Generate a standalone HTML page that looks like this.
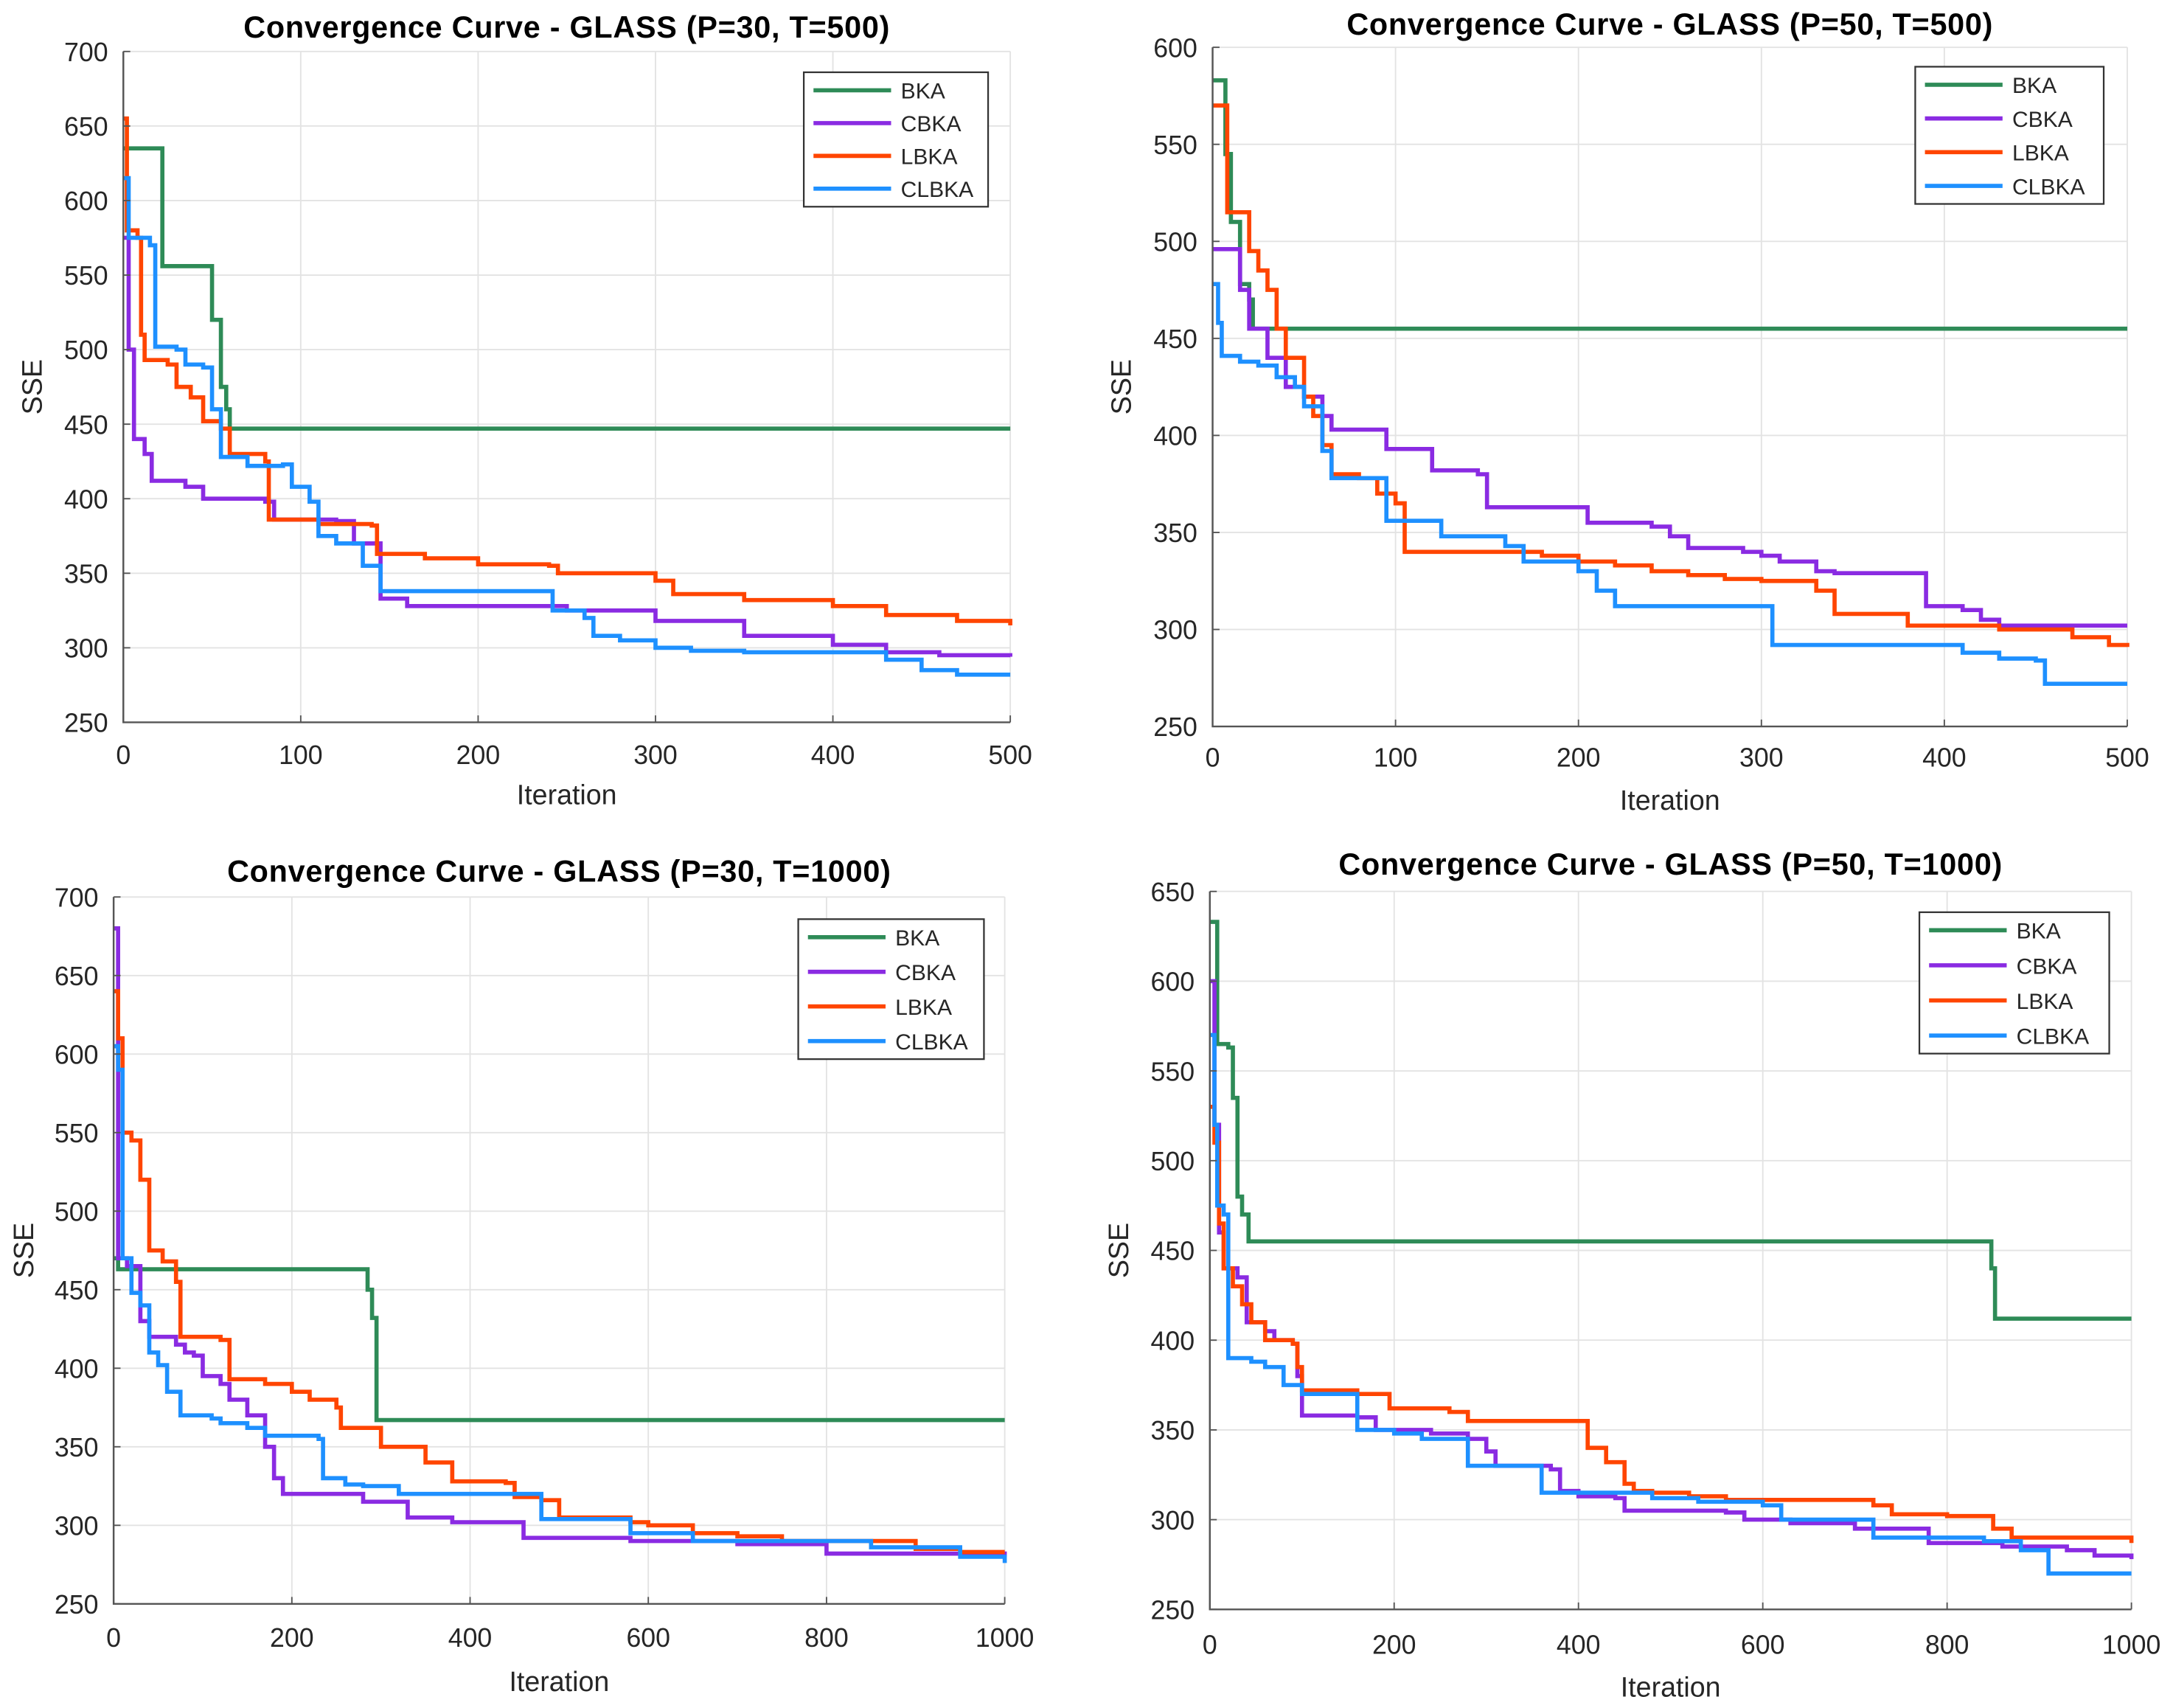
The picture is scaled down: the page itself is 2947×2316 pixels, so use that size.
<!DOCTYPE html>
<html><head><meta charset="utf-8"><style>
html,body{margin:0;padding:0;background:#fff}
svg{display:block}
text{font-family:"Liberation Sans",Arial,sans-serif;fill:#262626}
</style></head><body>
<svg id="fig" width="2947" height="2316" viewBox="0 0 1568 1232" xmlns="http://www.w3.org/2000/svg"></svg>
<script>
// ---- data ----
const seriesNames = ["BKA","CBKA","LBKA","CLBKA"];
const seriesColors = ["#2e8b57","#8a2be2","#ff4500","#1e90ff"];
const xTicks500 = [0,100,200,300,400,500];
const xTicks1000 = [0,200,400,600,800,1000];
const yTicksA = [250,300,350,400,450,500,550,600,650,700];
const yTicksB = [250,300,350,400,450,500,550,600];
const yTicksC = [250,300,350,400,450,500,550,600,650];

// Panel 1 (P=30, T=500)
const p1BKA_x = [0,20,22,48,50,55,58,60,500];
const p1BKA_y = [635,635,556,556,520,475,460,447,447];
const p1CBKA_x = [0,3,6,12,16,35,45,80,85,120,130,145,160,240,250,300,350,400,430,460,500];
const p1CBKA_y = [575,500,440,430,412,408,400,398,386,385,370,333,328,328,325,318,308,302,297,295,294];
const p1LBKA_x = [0,2,8,10,12,25,30,38,45,55,60,80,82,110,140,143,170,200,240,245,300,310,350,400,430,470,500];
const p1LBKA_y = [655,580,575,510,493,490,475,468,452,447,430,425,386,383,382,363,360,356,355,350,345,336,332,328,322,318,315];
const p1CLBKA_x = [0,3,15,18,30,35,45,50,55,70,90,95,105,110,120,135,145,240,242,260,265,280,300,320,350,400,430,450,470,500];
const p1CLBKA_y = [615,575,570,502,500,490,488,460,428,422,423,408,398,375,370,355,338,338,325,320,308,305,300,298,297,297,292,285,282,282];

// Panel 2 (P=50, T=500)
const p2BKA_x = [0,5,7,10,15,20,22,500];
const p2BKA_y = [583,583,545,510,478,470,455,455];
const p2CBKA_x = [0,10,15,20,30,40,50,60,65,90,95,115,120,145,150,200,205,240,250,260,290,300,310,330,340,380,390,410,420,430,500];
const p2CBKA_y = [496,496,475,455,440,425,420,410,403,403,393,393,382,380,363,363,355,353,348,342,340,338,335,330,329,329,312,310,305,302,302];
const p2LBKA_x = [0,5,8,15,20,25,30,35,40,50,55,60,65,80,90,100,105,170,180,200,220,240,260,280,300,330,340,370,380,430,470,490,500];
const p2LBKA_y = [570,570,515,515,495,485,475,455,440,420,410,395,380,378,370,365,340,340,338,335,333,330,328,326,325,320,308,308,302,300,296,292,291];
const p2CLBKA_x = [0,3,5,15,25,35,45,50,60,65,90,95,120,125,150,160,170,190,200,210,220,305,306,380,410,430,450,455,500];
const p2CLBKA_y = [478,458,441,438,436,430,425,415,392,378,378,356,356,348,348,343,335,335,330,320,312,312,292,292,288,285,284,272,272];

// Panel 3 (P=30, T=1000)
const p3BKA_x = [0,5,280,285,290,295,1000];
const p3BKA_y = [470,463,463,450,432,367,367];
const p3CBKA_x = [0,5,15,30,40,70,80,90,100,120,130,150,170,180,190,260,280,330,380,450,460,560,580,700,800,1000];
const p3CBKA_y = [680,470,465,430,420,415,410,408,395,390,380,370,350,330,320,320,315,305,302,302,292,292,290,288,282,280];
const p3LBKA_x = [0,5,10,20,30,40,55,70,75,120,130,170,200,220,250,255,295,300,350,380,440,450,480,500,580,600,650,700,750,850,900,950,1000];
const p3LBKA_y = [640,610,550,545,520,475,468,455,420,418,393,390,385,380,375,362,362,350,340,328,327,318,316,305,302,300,295,293,290,290,285,283,283];
const p3CLBKA_x = [0,5,10,20,30,40,50,60,75,110,120,150,170,230,235,260,280,320,460,480,570,580,650,700,850,950,1000];
const p3CLBKA_y = [605,590,470,448,440,410,402,385,370,368,365,362,357,355,330,326,325,320,320,304,304,295,290,290,286,280,276];

// Panel 4 (P=50, T=1000)
const p4BKA_x = [0,5,8,20,25,30,35,42,845,848,852,1000];
const p4BKA_y = [633,633,565,563,535,480,470,455,455,440,412,412];
const p4CBKA_x = [0,5,10,15,30,40,60,70,90,95,100,160,180,240,280,300,310,370,380,400,440,450,530,560,580,630,700,780,860,930,960,1000];
const p4CBKA_y = [600,520,460,440,435,410,405,400,398,380,358,357,350,348,345,338,330,328,316,313,312,305,305,304,300,298,295,287,285,283,280,278];
const p4LBKA_x = [0,5,10,15,25,35,45,60,90,95,100,160,190,195,260,280,400,410,430,450,460,480,520,560,660,720,740,800,850,870,1000];
const p4LBKA_y = [530,510,465,440,430,420,410,400,398,385,372,370,370,362,360,355,355,340,332,320,316,315,313,311,311,308,303,302,295,290,287];
const p4CLBKA_x = [0,5,8,15,20,45,60,80,100,150,160,200,230,280,350,360,480,530,600,620,720,840,880,910,1000];
const p4CLBKA_y = [570,520,475,470,390,388,385,375,370,370,350,348,345,330,330,315,312,310,308,300,290,288,283,270,270];

// ---- drawing ----
const NS = "http://www.w3.org/2000/svg";
const svg = document.getElementById("fig");
function mk(tag, attrs, parent){const e=document.createElementNS(NS,tag);for(const k in attrs)e.setAttribute(k,attrs[k]);(parent||svg).appendChild(e);return e;}

const panels = [
 {id:"p1",title:"Convergence Curve - GLASS (P=30, T=500)",x0:89,x1:729,y0:521,y1:37,xmax:500,ymin:250,ymax:700,xt:xTicks500,yt:yTicksA,titleY:27,tickY:551,xlY:580,ylX:30,
  leg:[580,52,133,97],
  xs:[p1BKA_x,p1CBKA_x,p1LBKA_x,p1CLBKA_x],ys:[p1BKA_y,p1CBKA_y,p1LBKA_y,p1CLBKA_y]},
 {id:"p2",title:"Convergence Curve - GLASS (P=50, T=500)",x0:875,x1:1535,y0:524,y1:34,xmax:500,ymin:250,ymax:600,xt:xTicks500,yt:yTicksB,titleY:25,tickY:553,xlY:584,ylX:816,
  leg:[1382,48,136,99],
  xs:[p2BKA_x,p2CBKA_x,p2LBKA_x,p2CLBKA_x],ys:[p2BKA_y,p2CBKA_y,p2LBKA_y,p2CLBKA_y]},
 {id:"p3",title:"Convergence Curve - GLASS (P=30, T=1000)",x0:82,x1:725,y0:1157,y1:647,xmax:1000,ymin:250,ymax:700,xt:xTicks1000,yt:yTicksA,titleY:636,tickY:1188,xlY:1220,ylX:24,
  leg:[576,663,134,101],
  xs:[p3BKA_x,p3CBKA_x,p3LBKA_x,p3CLBKA_x],ys:[p3BKA_y,p3CBKA_y,p3LBKA_y,p3CLBKA_y]},
 {id:"p4",title:"Convergence Curve - GLASS (P=50, T=1000)",x0:873,x1:1538,y0:1161,y1:643,xmax:1000,ymin:250,ymax:650,xt:xTicks1000,yt:yTicksC,titleY:631,tickY:1193,xlY:1224,ylX:814,
  leg:[1385,658,137,102],
  xs:[p4BKA_x,p4CBKA_x,p4LBKA_x,p4CLBKA_x],ys:[p4BKA_y,p4CBKA_y,p4LBKA_y,p4CLBKA_y]}
];

panels.forEach(p=>{
  const g = mk("g",{});
  
  
  const sx = v => p.x0 + (v/p.xmax)*(p.x1-p.x0);
  const sy = v => p.y0 - (v-p.ymin)/(p.ymax-p.ymin)*(p.y0-p.y1);
  p.xt.forEach(t=>{ const l=mk("line",{x1:sx(t),x2:sx(t),y1:p.y1,y2:p.y0,stroke:"#e3e3e3","stroke-width":1},g);
      });
  p.yt.forEach(t=>{ const l=mk("line",{x1:p.x0,x2:p.x1,y1:sy(t),y2:sy(t),stroke:"#e3e3e3","stroke-width":1},g);
      });
  p.xs.forEach((xa,i)=>{
    const ya = p.ys[i];
    let d = "M"+sx(xa[0]).toFixed(2)+","+sy(ya[0]).toFixed(2);
    for(let k=1;k<xa.length;k++){
      d += " L"+sx(xa[k]).toFixed(2)+","+sy(ya[k-1]).toFixed(2)+" L"+sx(xa[k]).toFixed(2)+","+sy(ya[k]).toFixed(2);
    }
    const path = mk("path",{d:d,fill:"none",stroke:seriesColors[i],"stroke-width":3,"stroke-linejoin":"miter"},g);
    
    
  });
  const ax = mk("path",{d:`M${p.x0},${p.y1} L${p.x0},${p.y0} L${p.x1},${p.y0}`,fill:"none",stroke:"#555","stroke-width":1.3},g);
   
  p.xt.forEach(t=>{
    const tk=mk("line",{x1:sx(t),x2:sx(t),y1:p.y0,y2:p.y0-5,stroke:"#555","stroke-width":1},g);
     
    const tx=mk("text",{x:sx(t),y:p.tickY,"text-anchor":"middle","font-size":19},g); tx.textContent=t;
     
  });
  p.yt.forEach(t=>{
    const tk=mk("line",{x1:p.x0,x2:p.x0+5,y1:sy(t),y2:sy(t),stroke:"#555","stroke-width":1},g);
     
    const tx=mk("text",{x:p.x0-11,y:sy(t)+7,"text-anchor":"end","font-size":19},g); tx.textContent=t;
     
  });
  const ti=mk("text",{x:(p.x0+p.x1)/2,y:p.titleY,"text-anchor":"middle","font-size":22,"font-weight":"bold","letter-spacing":0.4,style:"fill:#000"},g);
  ti.textContent=p.title;
   
  const xl=mk("text",{x:(p.x0+p.x1)/2,y:p.xlY,"text-anchor":"middle","font-size":20},g); xl.textContent="Iteration";
   
  const cy=(p.y0+p.y1)/2;
  const yl=mk("text",{x:p.ylX,y:cy,"text-anchor":"middle","font-size":20,transform:`rotate(-90 ${p.ylX} ${cy})`},g); yl.textContent="SSE";
   
  const [lx,ly,lw,lh]=p.leg;
  const lg=mk("g",{},g);
   
  mk("rect",{x:lx,y:ly,width:lw,height:lh,fill:"#fff",stroke:"#333","stroke-width":1.2},lg);
  seriesNames.forEach((n,i)=>{
    const yy = ly + 13 + i*(lh-26)/3;
    const e=mk("g",{},lg);
     
    mk("line",{x1:lx+7,x2:lx+63,y1:yy,y2:yy,stroke:seriesColors[i],"stroke-width":3},e);
    const t=mk("text",{x:lx+70,y:yy+6,"font-size":16},e); t.textContent=n;
  });
});
</script>
</body></html>
